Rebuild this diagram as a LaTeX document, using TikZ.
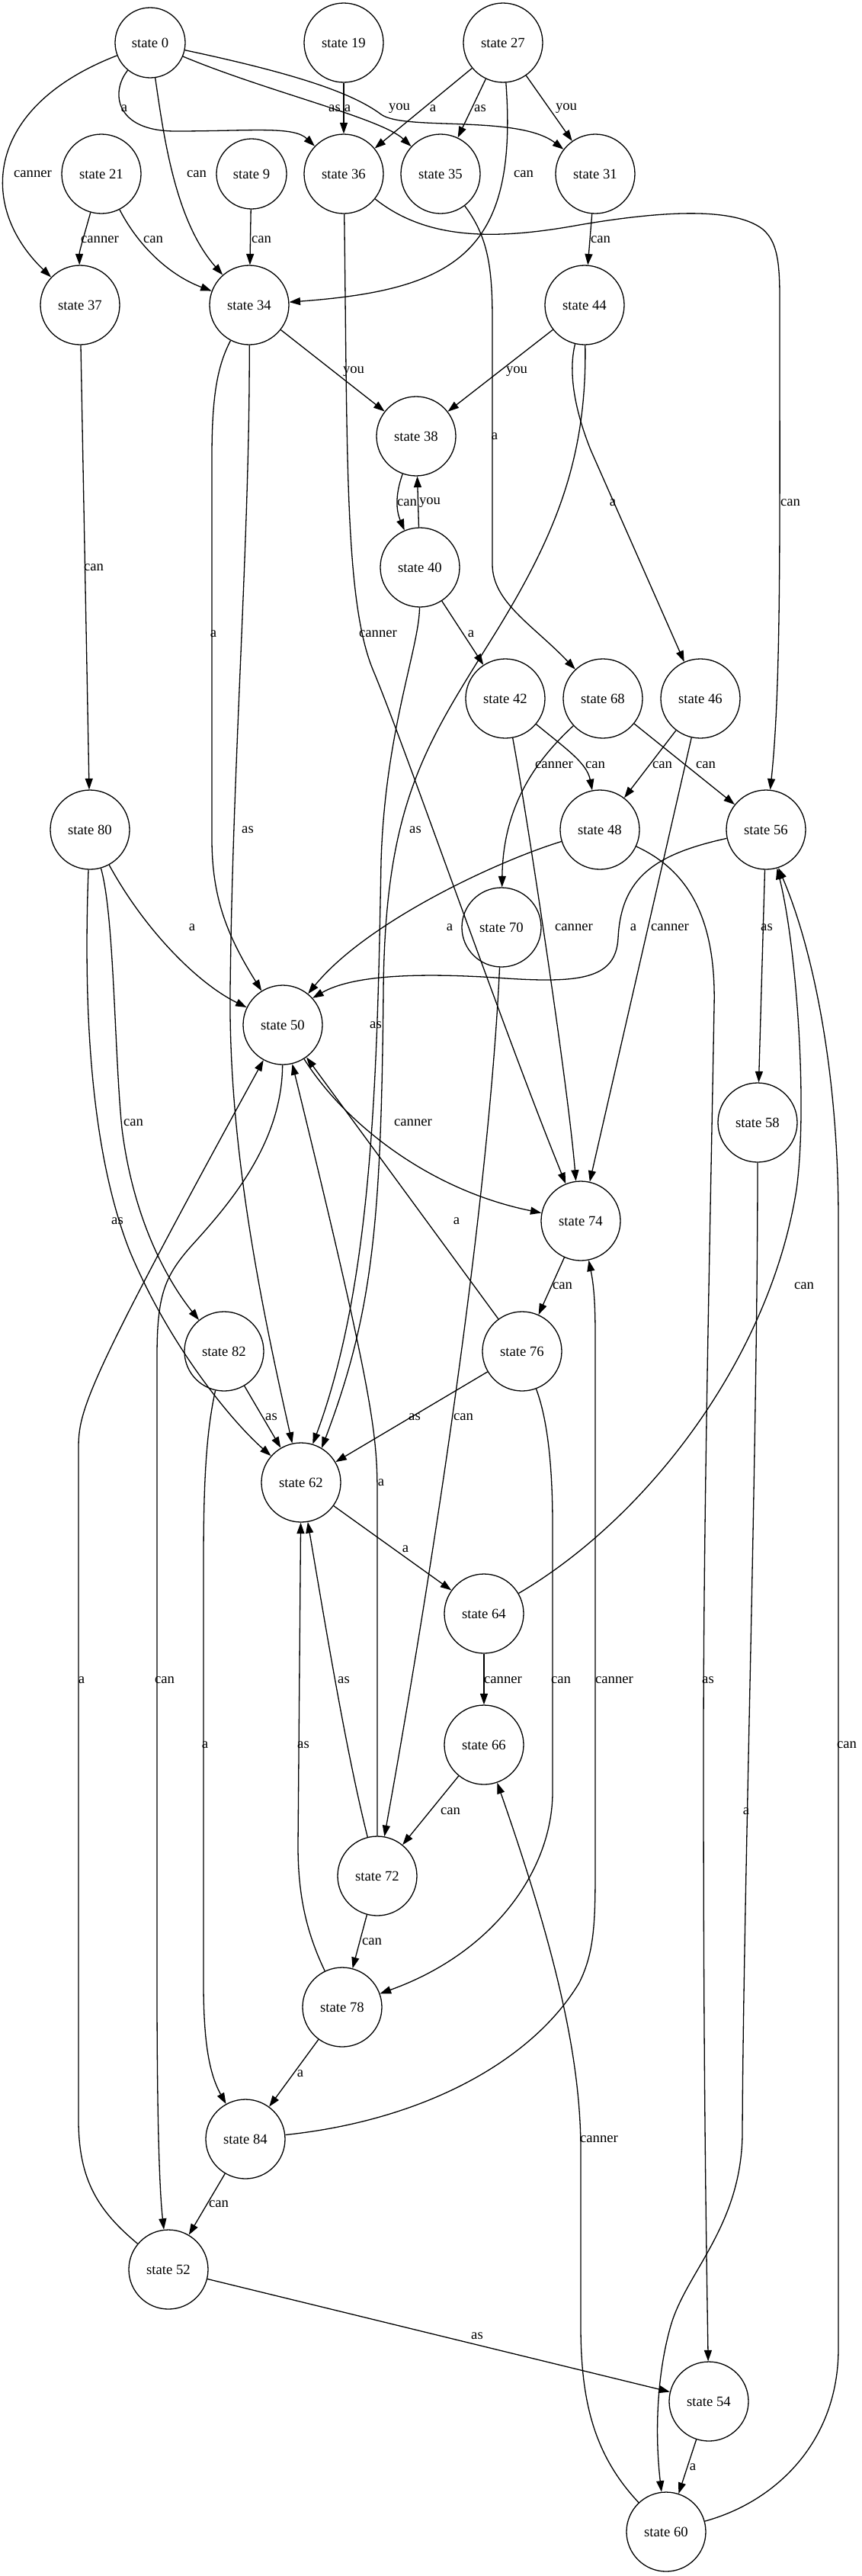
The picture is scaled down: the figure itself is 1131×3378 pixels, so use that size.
\documentclass[tikz,border=0pt]{standalone}
\usepackage{fontspec}
\setmainfont{Liberation Serif}
\usetikzlibrary{arrows.meta}
\begin{document}
\begin{tikzpicture}[x=1pt,y=-1pt,
  every node/.style={font=\fontsize{18.67}{22}\selectfont},
  st/.style={draw, circle, line width=1.3pt, minimum size=104pt, inner sep=0pt},
  sts/.style={st, minimum size=92pt},
  tr/.style={line width=1.3pt, -{Triangle[length=14.5pt,width=10pt]}},
  lb/.style={inner sep=0pt}]
\useasboundingbox[fill=white] (0,0) rectangle (1131,3378);

% states
\node[sts] (n0)  at (197,56)  {state 0};
\node[st]  (n19) at (451,56)  {state 19};
\node[st]  (n27) at (660,56)  {state 27};
\node[st]  (n21) at (133,228) {state 21};
\node[sts] (n9)  at (330,228) {state 9};
\node[st]  (n36) at (451,228) {state 36};
\node[st]  (n35) at (578,228) {state 35};
\node[st]  (n31) at (781,228) {state 31};
\node[st]  (n37) at (105,400) {state 37};
\node[st]  (n34) at (327,400) {state 34};
\node[st]  (n44) at (767,400) {state 44};
\node[st]  (n38) at (546,572) {state 38};
\node[st]  (n40) at (551,744) {state 40};
\node[st]  (n42) at (663,916) {state 42};
\node[st]  (n68) at (791,916) {state 68};
\node[st]  (n46) at (919,916) {state 46};
\node[st]  (n80) at (118,1088) {state 80};
\node[st]  (n48) at (787,1088) {state 48};
\node[st]  (n56) at (1005,1088) {state 56};
\node[st]  (n70) at (658,1216) {state 70};
\node[st]  (n50) at (371,1344) {state 50};
\node[st]  (n58) at (994,1472) {state 58};
\node[st]  (n74) at (762,1601) {state 74};
\node[st]  (n82) at (294,1772) {state 82};
\node[st]  (n76) at (685,1772) {state 76};
\node[st]  (n62) at (395,1944) {state 62};
\node[st]  (n64) at (635,2116) {state 64};
\node[st]  (n66) at (635,2288) {state 66};
\node[st]  (n72) at (495,2460) {state 72};
\node[st]  (n78) at (449,2632) {state 78};
\node[st]  (n84) at (322,2805) {state 84};
\node[st]  (n52) at (221,2976) {state 52};
\node[st]  (n54) at (930,3149) {state 54};
\node[st]  (n60) at (874,3320) {state 60};

% transitions
\draw[tr] (n0) .. controls (-20,140) and (-30,270) .. (n37);
\draw[tr] (n0) .. controls (145,120) and (150,172) .. (230,172) .. controls (330,172) and (385,165) .. (n36);
\draw[tr] (n0) .. controls (215,180) and (230,290) .. (n34);
\draw[tr] (n0) .. controls (350,120) and (500,155) .. (n35);
\draw[tr] (n0) .. controls (380,95) and (460,120) .. (500,150) .. controls (530,172) and (680,150) .. (n31);
\draw[tr] (n19) -- (n36);
\draw[tr] (n27) -- (n36);
\draw[tr] (n27) -- (n35);
\draw[tr] (n27) -- (n31);
\draw[tr] (n27) .. controls (680,330) and (600,380) .. (n34);
\draw[tr] (n21) .. controls (110,310) and (104,330) .. (n37);
\draw[tr] (n21) .. controls (180,320) and (220,360) .. (n34);
\draw[tr] (n9) -- (n34);
\draw[tr] (n36) .. controls (456,600) and (452,790) .. (490,880) .. controls (530,975) and (660,1350) .. (n74);
\draw[tr] (n36) .. controls (560,315) and (650,315) .. (760,295) .. controls (860,278) and (960,270) .. (1000,300) .. controls (1025,320) and (1023,360) .. (1023,420) .. controls (1023,700) and (1025,900) .. (n56);
\draw[tr] (n35) .. controls (640,310) and (646,350) .. (646,420) -- (646,740) .. controls (646,790) and (700,820) .. (n68);
\draw[tr] (n31) -- (n44);
\draw[tr] (n37) -- (n80);
\draw[tr] (n34) -- (n38);
\draw[tr] (n34) .. controls (285,480) and (278,520) .. (278,600) -- (278,1100) .. controls (278,1180) and (300,1230) .. (n50);
\draw[tr] (n34) .. controls (328,700) and (305,1000) .. (302,1300) .. controls (300,1500) and (340,1700) .. (n62);
\draw[tr] (n44) -- (n38);
\draw[tr] (n44) .. controls (745,490) and (755,540) .. (775,590) -- (n46);
\draw[tr] (n44) .. controls (770,600) and (730,700) .. (650,830) .. controls (560,975) and (505,1050) .. (503,1300) .. controls (500,1600) and (490,1720) .. (n62.59);
\draw[tr] (n38) .. controls (518,650) and (520,670) .. (n40);
\draw[tr] (n40) -- (n38);
\draw[tr] (n40) -- (n42);
\draw[tr] (n40) .. controls (550,850) and (505,960) .. (500,1130) .. controls (495,1400) and (490,1680) .. (n62.73);
\draw[tr] (n42) .. controls (740,980) and (770,1000) .. (n48);
\draw[tr] (n42) .. controls (690,1060) and (745,1420) .. (n74.97);
\draw[tr] (n68) .. controls (700,1000) and (660,1060) .. (n70);
\draw[tr] (n68) -- (n56);
\draw[tr] (n46) -- (n48);
\draw[tr] (n46) -- (n74);
\draw[tr] (n80) .. controls (190,1220) and (260,1290) .. (n50);
\draw[tr] (n80) .. controls (150,1200) and (150,1380) .. (160,1480) .. controls (175,1600) and (220,1680) .. (n82);
\draw[tr] (n80) .. controls (110,1300) and (115,1500) .. (170,1640) .. controls (220,1760) and (300,1860) .. (n62);
\draw[tr] (n48) .. controls (650,1130) and (480,1210) .. (n50);
\draw[tr] (n48) .. controls (900,1140) and (940,1200) .. (937,1320) .. controls (930,1700) and (923,2000) .. (923,2300) .. controls (923,2700) and (926,2900) .. (n54);
\draw[tr] (n56) .. controls (860,1120) and (815,1150) .. (811,1230) .. controls (808,1285) and (760,1290) .. (650,1282) .. controls (540,1275) and (460,1280) .. (n50.42);
\draw[tr] (n56) -- (n58);
\draw[tr] (n70) .. controls (640,1600) and (560,2100) .. (n72);
\draw[tr] (n50) .. controls (450,1470) and (560,1560) .. (n74);
\draw[tr] (n50) .. controls (370,1500) and (300,1580) .. (250,1635) .. controls (215,1675) and (206,1700) .. (206,1780) -- (206,2600) .. controls (206,2800) and (210,2880) .. (n52);
\draw[tr] (n58) .. controls (994,1900) and (975,2500) .. (974,2800) .. controls (972,2920) and (900,2980) .. (880,3050) .. controls (860,3120) and (860,3200) .. (n60);
\draw[tr] (n74) -- (n76);
\draw[tr] (n82) -- (n62);
\draw[tr] (n82) .. controls (270,1880) and (267,1950) .. (267,2050) -- (267,2600) .. controls (267,2680) and (275,2720) .. (n84);
\draw[tr] (n76) -- (n50);
\draw[tr] (n76) -- (n62);
\draw[tr] (n76) .. controls (718,1860) and (725,1920) .. (725,2000) -- (725,2350) .. controls (725,2450) and (650,2560) .. (n78);
\draw[tr] (n62) -- (n64);
\draw[tr] (n64) -- (n66);
\draw[tr] (n64) .. controls (850,1990) and (1010,1780) .. (1045,1560) .. controls (1060,1450) and (1045,1240) .. (n56.-74);
\draw[tr] (n66) -- (n72);
\draw[tr] (n72) -- (495,1960) .. controls (495,1880) and (490,1830) .. (n50);
\draw[tr] (n72) .. controls (455,2300) and (430,2150) .. (n62);
\draw[tr] (n72) -- (n78);
\draw[tr] (n78) .. controls (400,2530) and (391,2480) .. (391,2420) -- (n62);
\draw[tr] (n78) -- (n84);
\draw[tr] (n84) .. controls (560,2780) and (700,2700) .. (760,2600) .. controls (780,2560) and (781,2520) .. (781,2450) -- (781,1750) .. controls (781,1700) and (778,1680) .. (n74);
\draw[tr] (n84) -- (n52);
\draw[tr] (n52) .. controls (130,2900) and (103,2860) .. (103,2780) -- (103,1900) .. controls (103,1850) and (110,1820) .. (n50);
\draw[tr] (n52) -- (n54);
\draw[tr] (n54) -- (n60);
\draw[tr] (n60) .. controls (1020,3280) and (1100,3200) .. (1100,3080) -- (1100,1600) .. controls (1100,1400) and (1065,1240) .. (n56.-72);
\draw[tr] (n60) .. controls (780,3220) and (762,3150) .. (762,3050) -- (762,2820) .. controls (762,2700) and (730,2560) .. (n66);

% transition labels
\node[lb] (l0x37)  at (43,228)   {canner};
\node[lb] (l0x36)  at (163,142)  {a};
\node[lb] (l0x34)  at (258,228)  {can};
\node[lb] (l0x35)  at (439,142)  {as};
\node[lb] (l0x31)  at (524,142)  {you};
\node[lb] (l19x36) at (456,142)  {a};
\node[lb] (l27x36) at (568,142)  {a};
\node[lb] (l27x35) at (630,142)  {as};
\node[lb] (l27x31) at (743,142)  {you};
\node[lb] (l27x34) at (687,228)  {can};
\node[lb] (l21x37) at (131,314)  {canner};
\node[lb] (l21x34) at (201,314)  {can};
\node[lb] (l9x34)  at (343,314)  {can};
\node[lb] (l31x44) at (788,314)  {can};
\node[lb] (l34x38) at (464,487)  {you};
\node[lb] (l44x38) at (678,487)  {you};
\node[lb] (l35x68) at (649,572)  {a};
\node[lb] (l38x40) at (534,659)  {can};
\node[lb] (l40x38) at (564,659)  {you};
\node[lb] (l44x46) at (804,659)  {a};
\node[lb] (l36x56) at (1037,659) {can};
\node[lb] (l37x80) at (123,744)  {can};
\node[lb] (l34x50) at (280,831)  {a};
\node[lb] (l36x74) at (496,831)  {canner};
\node[lb] (l40x42) at (618,831)  {a};
\node[lb] (l68x70) at (727,1003) {canner};
\node[lb] (l42x48) at (781,1003) {can};
\node[lb] (l46x48) at (869,1003) {can};
\node[lb] (l68x56) at (926,1003) {can};
\node[lb] (l34x62) at (325,1088) {as};
\node[lb] (l44x62) at (545,1088) {as};
\node[lb] (l80x50) at (252,1216) {a};
\node[lb] (l48x50) at (590,1216) {a};
\node[lb] (l42x74) at (753,1216) {canner};
\node[lb] (l56x50) at (831,1216) {a};
\node[lb] (l46x74) at (879,1216) {canner};
\node[lb] (l56x58) at (1006,1216) {as};
\node[lb] (l40x62) at (493,1344) {as};
\node[lb] (l80x82) at (175,1472) {can};
\node[lb] (l50x74) at (542,1472) {canner};
\node[lb] (l80x62) at (154,1601) {as};
\node[lb] (l76x50) at (599,1601) {a};
\node[lb] (l74x76) at (738,1686) {can};
\node[lb] (l64x56) at (1055,1686) {can};
\node[lb] (l82x62) at (356,1858) {as};
\node[lb] (l76x62) at (544,1858) {as};
\node[lb] (l70x72) at (608,1858) {can};
\node[lb] (l72x50) at (500,1944) {a};
\node[lb] (l62x64) at (532,2031) {a};
\node[lb] (l52x50) at (107,2203) {a};
\node[lb] (l50x52) at (216,2203) {can};
\node[lb] (l72x62) at (451,2203) {as};
\node[lb] (l64x66) at (660,2203) {canner};
\node[lb] (l76x78) at (736,2203) {can};
\node[lb] (l84x74) at (806,2203) {canner};
\node[lb] (l48x54) at (929,2203) {as};
\node[lb] (l82x84) at (269,2288) {a};
\node[lb] (l78x62) at (398,2288) {as};
\node[lb] (l60x56) at (1111,2288) {can};
\node[lb] (l66x72) at (591,2375) {can};
\node[lb] (l58x60) at (979,2375) {a};
\node[lb] (l72x78) at (488,2546) {can};
\node[lb] (l78x84) at (394,2719) {a};
\node[lb] (l60x66) at (786,2805) {canner};
\node[lb] (l84x52) at (287,2890) {can};
\node[lb] (l52x54) at (626,3063) {as};
\node[lb] (l54x60) at (909,3235) {a};
\end{tikzpicture}
\end{document}
